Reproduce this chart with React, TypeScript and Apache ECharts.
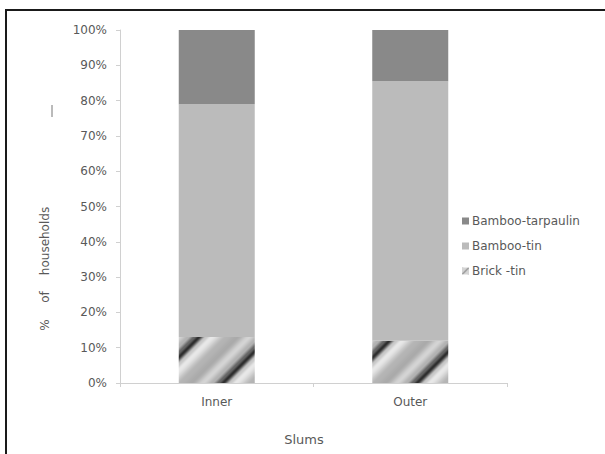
import React, { useEffect, useRef } from "react";
import * as echarts from "echarts";

const categories = ["Inner", "Outer"];
const brickTin = [13, 12];
const bambooTin = [66, 73.5];
const bambooTarpaulin = [21, 14.5];
const yTicks = [0, 10, 20, 30, 40, 50, 60, 70, 80, 90, 100];

const FONT = "DejaVu Sans";
const TEXT = "#595959";

// Grey level across one stripe period (fraction of period -> grey value).
const stripeProfile: [number, number][] = [
  [0, 45],
  [0.1, 200],
  [0.18, 232],
  [0.4, 180],
  [0.55, 170],
  [0.72, 212],
  [0.85, 178],
  [0.94, 100],
  [1, 45],
];

function greyAt(t: number): number {
  for (let k = 1; k < stripeProfile.length; k++) {
    const [t1, g1] = stripeProfile[k];
    const [t0, g0] = stripeProfile[k - 1];
    if (t <= t1) {
      const u = (t - t0) / (t1 - t0);
      const s = u * u * (3 - 2 * u);
      return g0 + (g1 - g0) * s;
    }
  }
  return stripeProfile[stripeProfile.length - 1][1];
}

// Diagonal shaded stripes ("/" direction), tile anchored at the page origin.
function stripeTile(size: number, phase: number): HTMLCanvasElement {
  const c = document.createElement("canvas");
  c.width = size;
  c.height = size;
  const ctx = c.getContext("2d")!;
  const img = ctx.createImageData(size, size);
  for (let y = 0; y < size; y++) {
    for (let x = 0; x < size; x++) {
      const t = ((((x + y - phase) % size) + size) % size) / size;
      const g = Math.round(greyAt(t));
      const i = (y * size + x) * 4;
      img.data[i] = g;
      img.data[i + 1] = g;
      img.data[i + 2] = g;
      img.data[i + 3] = 255;
    }
  }
  ctx.putImageData(img, 0, 0);
  return c;
}

function legendTile(): HTMLCanvasElement {
  const size = 7;
  const c = document.createElement("canvas");
  c.width = size;
  c.height = size;
  const ctx = c.getContext("2d")!;
  ctx.fillStyle = "#d4d4d4";
  ctx.fillRect(0, 0, size, size);
  ctx.strokeStyle = "#8a8a8a";
  ctx.lineWidth = 1.2;
  ctx.beginPath();
  ctx.moveTo(0, size);
  ctx.lineTo(size, 0);
  ctx.stroke();
  return c;
}

function pattern(image: HTMLCanvasElement) {
  return {
    image,
    repeat: "repeat",
    imageWidth: image.width,
    imageHeight: image.height,
  } as any;
}

export default function App() {
  const ref = useRef<HTMLDivElement>(null);

  useEffect(() => {
    const chart = echarts.init(ref.current!, undefined, { renderer: "svg" });
    const innerPat = pattern(stripeTile(70, 45));
    const outerPat = pattern(stripeTile(70, 29));
    const legendPat = pattern(legendTile());

    chart.setOption({
      animation: false,
      backgroundColor: "#ffffff",
      textStyle: { fontFamily: FONT },
      grid: { left: 120, right: 98, top: 30, bottom: 71 },
      legend: {
        orient: "vertical",
        left: 457,
        top: 210,
        itemWidth: 7,
        itemHeight: 7,
        itemGap: 13,
        icon: "rect",
        textStyle: { fontFamily: FONT, fontSize: 12, color: TEXT, padding: [0, 0, 0, -2] },
        data: [
          { name: "Bamboo-tarpaulin" },
          { name: "Bamboo-tin" },
          { name: "Brick -tin", itemStyle: { color: legendPat } },
        ],
      },
      xAxis: {
        type: "category",
        data: categories,
        axisLine: { lineStyle: { color: "#d0d0d0", width: 1 } },
        axisTick: { show: true, alignWithLabel: false, length: 4, lineStyle: { color: "#d0d0d0" } },
        axisLabel: { fontFamily: FONT, fontSize: 12, color: TEXT, margin: 13 },
      },
      yAxis: {
        type: "value",
        min: 0,
        max: 100,
        interval: 10,
        axisLine: { show: true, lineStyle: { color: "#d0d0d0", width: 1 } },
        axisTick: { show: true, length: 4, lineStyle: { color: "#d0d0d0" } },
        splitLine: { show: false },
        axisLabel: {
          fontFamily: FONT,
          fontSize: 12,
          color: TEXT,
          margin: 13,
          formatter: (v: number) => (yTicks.includes(v) ? `${v}%` : ""),
        },
      },
      series: [
        {
          name: "Brick -tin",
          type: "bar",
          stack: "total",
          barWidth: 76,
          data: [
            { value: brickTin[0], itemStyle: { color: innerPat } },
            { value: brickTin[1], itemStyle: { color: outerPat } },
          ],
          itemStyle: { color: legendPat },
        },
        {
          name: "Bamboo-tin",
          type: "bar",
          stack: "total",
          barWidth: 76,
          data: bambooTin,
          itemStyle: { color: "#bbbbbb" },
        },
        {
          name: "Bamboo-tarpaulin",
          type: "bar",
          stack: "total",
          barWidth: 76,
          data: bambooTarpaulin,
          itemStyle: { color: "#898989" },
        },
      ],
      graphic: [
        {
          type: "rect",
          shape: { x: 6, y: 10, width: 640, height: 480 },
          style: { fill: "none", stroke: "#1a1a1a", lineWidth: 2 },
          silent: true,
        },
        {
          type: "line",
          shape: { x1: 52, y1: 105, x2: 52, y2: 117 },
          style: { stroke: "#777777", lineWidth: 1 },
        },
        {
          type: "text",
          x: 45,
          y: 325,
          rotation: Math.PI / 2,
          style: { text: "%", font: `12px ${FONT}`, fill: TEXT, align: "center", verticalAlign: "middle" },
        },
        {
          type: "text",
          x: 45,
          y: 297,
          rotation: Math.PI / 2,
          style: { text: "of", font: `12px ${FONT}`, fill: TEXT, align: "center", verticalAlign: "middle" },
        },
        {
          type: "text",
          x: 45,
          y: 241,
          rotation: Math.PI / 2,
          style: { text: "households", font: `12px ${FONT}`, fill: TEXT, align: "center", verticalAlign: "middle" },
        },
        {
          type: "text",
          x: 304,
          y: 439,
          style: { text: "Slums", font: `13px ${FONT}`, fill: TEXT, align: "center", verticalAlign: "middle" },
        },
      ],
    });
    return () => chart.dispose();
  }, []);

  return (
    <div
      ref={ref}
      style={{ position: "fixed", left: 0, top: 0, width: 605, height: 454 }}
    />
  );
}
